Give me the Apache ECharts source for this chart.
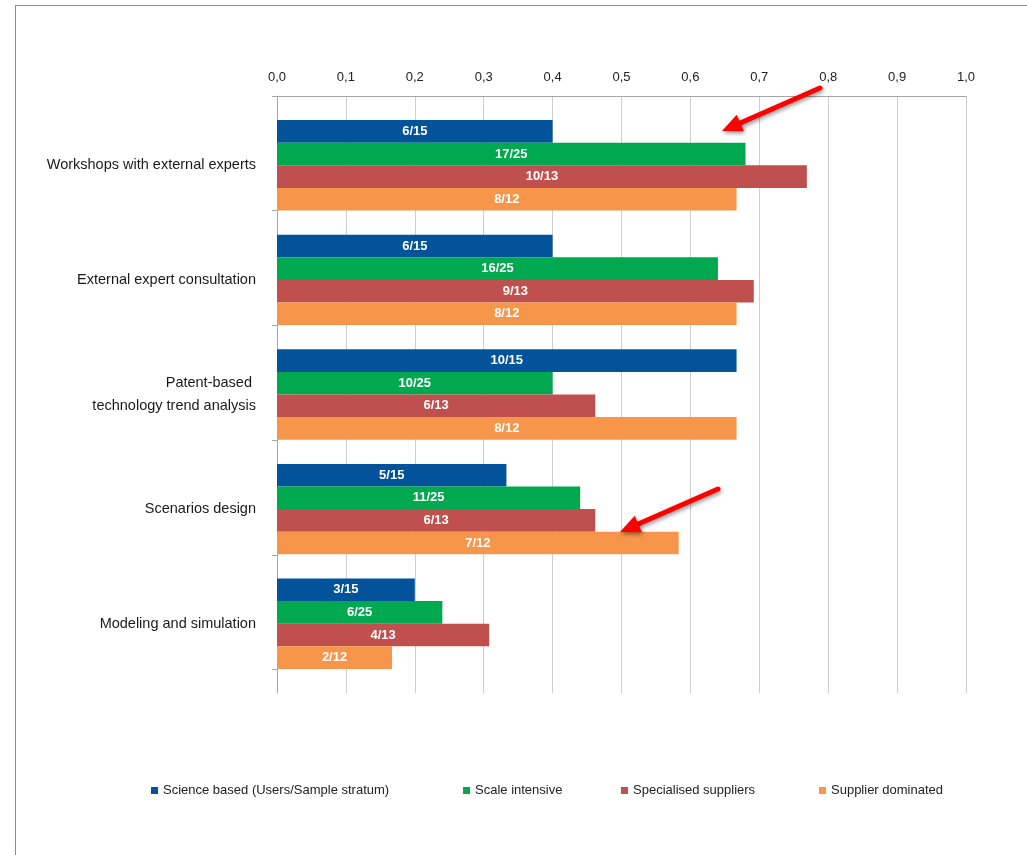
<!DOCTYPE html>
<html>
<head>
<meta charset="utf-8">
<script src="https://cdn.jsdelivr.net/npm/echarts@6/dist/echarts.min.js"></script>
<style>
  html, body { margin: 0; padding: 0; background: #ffffff; }
  #frame { position: absolute; left: 15px; top: 5px; width: 1100px; height: 1000px;
           border-left: 1.5px solid #8c8c8c; border-top: 1.5px solid #8c8c8c; box-sizing: border-box; }
  #chart { position: absolute; left: 0; top: 0; width: 1027px; height: 855px; }
</style>
</head>
<body>
<div id="frame"></div>
<div id="chart"></div>
<script>
// ---- data ----
const categories = [
  'Workshops with external experts',
  'External expert consultation',
  'Patent-based \ntechnology trend analysis',
  'Scenarios design',
  'Modeling and simulation'
];
const seriesNames = [
  'Science based (Users/Sample stratum)',
  'Scale intensive',
  'Specialised suppliers',
  'Supplier dominated'
];
const scienceBased        = [0.400, 0.400, 0.667, 0.333, 0.200];
const scaleIntensive      = [0.680, 0.640, 0.400, 0.440, 0.240];
const specialisedSuppliers= [0.769, 0.692, 0.462, 0.462, 0.308];
const supplierDominated   = [0.667, 0.667, 0.667, 0.583, 0.167];

const scienceLabels     = ['6/15', '6/15', '10/15', '5/15', '3/15'];
const scaleLabels       = ['17/25', '16/25', '10/25', '11/25', '6/25'];
const specialisedLabels = ['10/13', '9/13', '6/13', '6/13', '4/13'];
const dominatedLabels   = ['8/12', '8/12', '8/12', '7/12', '2/12'];

const xTicks = ['0,0','0,1','0,2','0,3','0,4','0,5','0,6','0,7','0,8','0,9','1,0'];

// ---- styling ----
const colors = ['#02539a', '#00a84f', '#c0504d', '#f7964a'];
const FONT = '"Liberation Sans", Arial, sans-serif';
const values = [scienceBased, scaleIntensive, specialisedSuppliers, supplierDominated];
const labels = [scienceLabels, scaleLabels, specialisedLabels, dominatedLabels];

const chart = echarts.init(document.getElementById('chart'), null, { renderer: 'canvas' });

const series = seriesNames.map((name, i) => ({
  name: name,
  type: 'bar',
  xAxisIndex: 0,
  yAxisIndex: 0,
  barWidth: 22.6,
  barGap: '0%',
  itemStyle: { color: colors[i] },
  label: {
    show: true,
    position: 'inside',
    color: '#ffffff',
    fontWeight: 'bold',
    fontSize: 13,
    fontFamily: FONT,
    formatter: p => labels[i][p.dataIndex]
  },
  data: values[i]
}));

const legendX = [146, 458, 616, 814];
const legends = seriesNames.map((name, i) => ({
  data: [name],
  left: legendX[i],
  top: 779,
  icon: 'rect',
  itemWidth: 7,
  itemHeight: 7,
  textStyle: { color: '#222', fontSize: 13, fontFamily: FONT },
  selectedMode: false
}));

// arrows annotation: [tailX, tailY, headX, headY]
const arrows = [[820, 88, 722, 131], [718, 489, 620, 532]];
const graphics = [];
arrows.forEach(a => {
  const [x1, y1, x2, y2] = a;
  const ang = Math.atan2(y2 - y1, x2 - x1);
  const L = 20, W = 9;
  const bx = x2 - L * Math.cos(ang), by = y2 - L * Math.sin(ang);
  const px = -Math.sin(ang), py = Math.cos(ang);
  const shadow = { shadowBlur: 4, shadowColor: 'rgba(0,0,0,0.45)', shadowOffsetX: 1, shadowOffsetY: 2 };
  graphics.push({
    type: 'line', z: 100,
    shape: { x1: x1, y1: y1, x2: bx, y2: by },
    style: Object.assign({ stroke: '#ff0000', lineWidth: 5, lineCap: 'round' }, shadow)
  });
  graphics.push({
    type: 'polygon', z: 100,
    shape: { points: [[x2, y2], [bx + px * W, by + py * W], [bx - px * W, by - py * W]] },
    style: Object.assign({ fill: '#ff0000' }, shadow)
  });
});

chart.setOption({
  backgroundColor: 'transparent',
  animation: false,
  textStyle: { fontFamily: FONT },
  legend: legends,
  grid: [
    { left: 277, right: 61, top: 108, height: 573 },
    { left: 277, right: 61, top: 96, height: 597 }
  ],
  xAxis: [
    { gridIndex: 0, type: 'value', min: 0, max: 1, show: false },
    {
      gridIndex: 1, type: 'value', position: 'top', min: 0, max: 1, interval: 0.1,
      axisLine: { show: true, lineStyle: { color: '#a6a6a6', width: 1 } },
      axisTick: { show: false },
      axisLabel: {
        color: '#222', fontSize: 13, margin: 12, fontFamily: FONT,
        formatter: (v) => xTicks[Math.round(v * 10)]
      },
      splitLine: { show: true, lineStyle: { color: '#cfcfcf', width: 1 } }
    }
  ],
  yAxis: [
    {
      gridIndex: 0, type: 'category', inverse: true, data: categories,
      axisLine: { show: false }, axisTick: { show: false },
      axisLabel: { color: '#1a1a1a', fontSize: 14.5, margin: 21, fontFamily: FONT, lineHeight: 23,
                   align: 'right', padding: [4, 0, 0, 0] }
    },
    {
      gridIndex: 1, type: 'value', inverse: true, min: 0, max: 5.205, interval: 1,
      axisLine: { show: true, lineStyle: { color: '#a6a6a6', width: 1 } },
      axisTick: { show: true, length: 5, customValues: [0, 1, 2, 3, 4, 5], lineStyle: { color: '#a6a6a6' } },
      axisLabel: { show: false },
      splitLine: { show: false }
    }
  ],
  series: series,
  graphic: graphics
});
</script>
</body>
</html>
